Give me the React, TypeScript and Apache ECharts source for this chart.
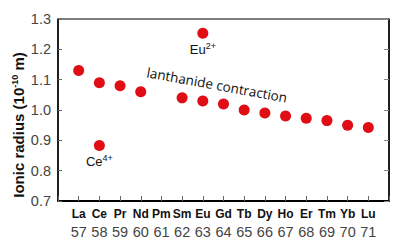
import React, { useEffect, useRef } from "react";
import * as echarts from "echarts";

const symbols = ["La", "Ce", "Pr", "Nd", "Pm", "Sm", "Eu", "Gd", "Tb", "Dy", "Ho", "Er", "Tm", "Yb", "Lu"];
const atomicNumbers = [57, 58, 59, 60, 61, 62, 63, 64, 65, 66, 67, 68, 69, 70, 71];
const radii3: (number | null)[] = [1.13, 1.09, 1.08, 1.06, null, 1.04, 1.03, 1.02, 1.0, 0.99, 0.98, 0.973, 0.965, 0.95, 0.942];
const ce4Point = [58, 0.883];
const eu2Point = [63, 1.253];

export default function App() {
  const ref = useRef<HTMLDivElement>(null);
  useEffect(() => {
    if (!ref.current) return;
    const chart = echarts.init(ref.current, null, { renderer: "svg" });
    const red = "#e00d14";
    const mainData = atomicNumbers
      .map((z, i) => [z, radii3[i]])
      .filter((d) => d[1] !== null);
    const ionLabel = (txt: string) => ({
      show: true,
      position: "bottom",
      distance: 3,
      formatter: txt,
      fontFamily: "Liberation Sans",
      fontSize: 13,
      color: "#111",
      rich: { sup: { fontFamily: "Liberation Sans", fontSize: 9, verticalAlign: "top", padding: [0, 0, 6, 0], color: "#111" } },
    });
    chart.setOption({
      animation: false,
      grid: { left: 58, right: 10, top: 19, bottom: 43, show: true, borderColor: "#000", borderWidth: 1, backgroundColor: "transparent" },
      xAxis: {
        type: "value",
        min: 56,
        max: 72,
        interval: 1,
        splitLine: { show: false },
        axisLine: { lineStyle: { color: "#000", width: 2 } },
        axisTick: { inside: true, length: 5, lineStyle: { color: "#666" } },
        axisLabel: {
          margin: 4,
          formatter: (v: number) => {
            const i = atomicNumbers.indexOf(v);
            if (i < 0) return "";
            return `{s|${symbols[i]}}\n{n|${atomicNumbers[i]}}`;
          },
          rich: {
            s: { fontFamily: "Liberation Sans", fontWeight: "bold", fontSize: 12, color: "#111", lineHeight: 18 },
            n: { fontFamily: "Liberation Sans", fontSize: 14.5, color: "#444", lineHeight: 18 },
          },
        },
      },
      yAxis: [
        {
          type: "value",
          min: 0.7,
          max: 1.3,
          interval: 0.1,
          splitLine: { show: false },
          axisLine: { show: true, lineStyle: { color: "#000", width: 1.5 } },
          axisTick: { show: true, inside: true, length: 4, lineStyle: { color: "#666" } },
          axisLabel: {
            fontFamily: "Liberation Sans",
            fontSize: 14.5,
            color: "#444",
            margin: 7,
            formatter: (v: number) => v.toFixed(1),
          },
        },
        {
          type: "value",
          position: "right",
          min: 0.7,
          max: 1.3,
          interval: 0.1,
          splitLine: { show: false },
          axisLine: { show: true, lineStyle: { color: "#000", width: 1.5 } },
          axisTick: { show: true, inside: true, length: 5, lineStyle: { color: "#888" } },
          axisLabel: { show: false },
        },
      ],
      series: [
        {
          type: "scatter",
          data: mainData,
          symbolSize: 11,
          itemStyle: { color: red, opacity: 1 },
        },
        {
          type: "scatter",
          data: [ce4Point],
          symbolSize: 11,
          itemStyle: { color: red, opacity: 1 },
          label: ionLabel("Ce{sup|4+}"),
        },
        {
          type: "scatter",
          data: [eu2Point],
          symbolSize: 11,
          itemStyle: { color: red, opacity: 1 },
          label: ionLabel("Eu{sup|2+}"),
        },
      ],
      graphic: [
        {
          type: "text",
          x: 217,
          y: 85,
          rotation: -0.18,
          style: {
            text: "lanthanide contraction",
            fontFamily: "Open Sans",
            fontSize: 13.5,
            fill: "#111",
            align: "center",
            verticalAlign: "middle",
          },
        },
        {
          type: "text",
          x: 18,
          y: 125,
          rotation: Math.PI / 2,
          style: {
            text: "Ionic radius (10{sup|-10} m)",
            fontFamily: "Liberation Sans",
            fontWeight: "bold",
            fontSize: 15,
            fill: "#111",
            align: "center",
            verticalAlign: "middle",
            rich: {
              sup: { fontFamily: "Liberation Sans", fontWeight: "bold", fontSize: 9, verticalAlign: "top", fill: "#111", padding: [0, 0, 7, 0] },
            },
          },
        },
      ],
    });
    return () => chart.dispose();
  }, []);
  return <div ref={ref} style={{ width: 399, height: 244, position: "absolute", left: 0, top: 0, background: "#fff" }} />;
}
